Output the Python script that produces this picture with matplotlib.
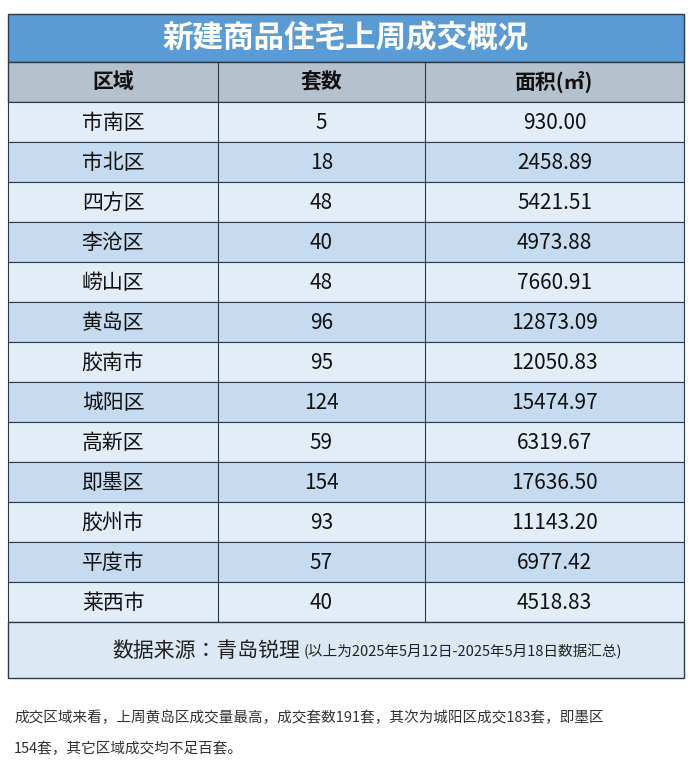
import matplotlib.pyplot as plt
from matplotlib import font_manager
from matplotlib.patches import Rectangle

# find a CJK font file and register it
cjk = [f for f in font_manager.findSystemFonts() if 'CJK' in f or 'cjk' in f.lower()]
cjk.sort(key=lambda f: ('Regular' not in f, 'SC' not in f, f))
family = ['DejaVu Sans']
if cjk:
    font_manager.fontManager.addfont(cjk[0])
    family = [font_manager.FontProperties(fname=cjk[0]).get_name(), 'DejaVu Sans']
plt.rcParams['font.family'] = family

title = '新建商品住宅上周成交概况'
headers = ['区域', '套数', '面积(㎡)']
districts = ['市南区', '市北区', '四方区', '李沧区', '崂山区', '黄岛区', '胶南市',
             '城阳区', '高新区', '即墨区', '胶州市', '平度市', '莱西市']
units = [5, 18, 48, 40, 48, 96, 95, 124, 59, 154, 93, 57, 40]
areas = [930.00, 2458.89, 5421.51, 4973.88, 7660.91, 12873.09, 12050.83,
         15474.97, 6319.67, 17636.50, 11143.20, 6977.42, 4518.83]
source = '数据来源：青岛锐理'
source_note = '(以上为2025年5月12日-2025年5月18日数据汇总)'
para = ['成交区域来看，上周黄岛区成交量最高，成交套数191套，其次为城阳区成交183套，即墨区',
        '154套，其它区域成交均不足百套。']

W, H = 693, 767
fig = plt.figure(figsize=(W / 100, H / 100), dpi=100)
ax = fig.add_axes([0, 0, 1, 1])
ax.set_xlim(0, W)
ax.set_ylim(H, 0)
ax.axis('off')

x0, x1, x2, x3 = 8, 218, 425, 684
edge = '#2b3a4a'

# title band
ax.add_patch(Rectangle((x0, 14), x3 - x0, 48, facecolor='#5b9bd5', edgecolor=edge, lw=1))
ax.text((x0 + x3) / 2, 38, title, ha='center', va='center', fontsize=22,
        fontweight='bold', color='white')

# header
ax.add_patch(Rectangle((x0, 62), x3 - x0, 40, facecolor='#b5c1cd', edgecolor=edge, lw=1))
cx = [(x0 + x1) / 2, (x1 + x2) / 2, (x2 + x3) / 2]
for c, h in zip(cx, headers):
    ax.text(c, 82, h, ha='center', va='center', fontsize=15, fontweight='bold', color='#111111')

# rows
rh = 40
for i, (d, u, a) in enumerate(zip(districts, units, areas)):
    y = 102 + i * rh
    fc = '#e3edf7' if i % 2 == 0 else '#c6dbef'
    ax.add_patch(Rectangle((x0, y), x3 - x0, rh, facecolor=fc, edgecolor=edge, lw=0.8))
    for c, t in zip(cx, [d, str(u), f'{a:.2f}']):
        ax.text(c, y + rh / 2 + 1, t, ha='center', va='center', fontsize=15, color='#111111')

for xv in (x1, x2):
    ax.plot([xv, xv], [62, 102 + 13 * rh], color=edge, lw=0.8)

# footer
yf = 102 + 13 * rh
ax.add_patch(Rectangle((x0, yf), x3 - x0, 678 - yf, facecolor='#dce8f3', edgecolor=edge, lw=1))
ax.text(300, 651, source, ha='right', va='center', fontsize=15, color='#222222')
ax.text(304, 652, source_note, ha='left', va='center', fontsize=10.5, color='#222222')

# paragraph below
for k, line in enumerate(para):
    ax.text(14, 718 + k * 31, line, ha='left', va='center', fontsize=10.5, color='#333333')

fig.savefig('out.png', dpi=100, facecolor='white')
